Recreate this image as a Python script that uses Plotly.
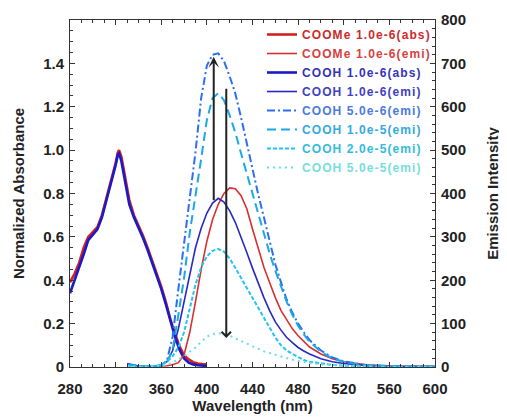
import plotly.graph_objects as go

# ---------------- data ----------------
abs_wl = [280, 284, 288, 292, 296, 300, 304, 308, 312, 316, 320, 322, 323, 325, 328, 332,
          336, 340, 344, 348, 352, 356, 360, 364, 368, 372, 376, 380, 384, 388, 392, 396, 400]
coome_abs = [0.39, 0.43, 0.48, 0.55, 0.60, 0.625, 0.645, 0.70, 0.78, 0.85, 0.94, 0.99, 1.0, 0.97,
             0.89, 0.77, 0.70, 0.655, 0.605, 0.55, 0.49, 0.43, 0.37, 0.30, 0.22, 0.155, 0.095,
             0.055, 0.035, 0.022, 0.016, 0.014, 0.013]
cooh_abs = [0.34, 0.40, 0.45, 0.52, 0.585, 0.61, 0.635, 0.69, 0.77, 0.84, 0.93, 0.98, 0.985, 0.95,
            0.87, 0.75, 0.69, 0.645, 0.595, 0.54, 0.48, 0.42, 0.36, 0.29, 0.21, 0.14, 0.08,
            0.04, 0.02, 0.012, 0.008, 0.006, 0.005]

em_wl = [330, 335, 340, 350, 360, 365, 370, 375, 380, 385, 390, 395, 400, 405, 410, 415, 420,
         425, 430, 435, 440, 445, 450, 455, 460, 465, 470, 475, 480, 485, 490, 500, 510, 520,
         530, 540, 560, 580, 600]
coome_emi_1e6 = [6, 4, 2, 1, 2, 3, 5, 10, 28, 80, 150, 225, 290, 340, 375, 400, 413,
                 411, 395, 365, 318, 272, 230, 195, 160, 130, 108, 88, 72, 58, 46, 30, 19, 12,
                 8, 5, 2, 1, 1]
cooh_emi_1e6 = [8, 5, 2, 1, 4, 12, 38, 88, 148, 215, 275, 320, 355, 378, 389, 380, 360,
                333, 300, 264, 228, 192, 160, 130, 104, 85, 68, 56, 45, 37, 30, 19, 12, 8,
                5, 3, 1, 1, 1]
cooh_emi_5e6 = [6, 4, 2, 1, 4, 15, 70, 180, 290, 390, 495, 620, 695, 720, 723, 705, 670,
                630, 575, 515, 460, 398, 345, 290, 237, 195, 155, 125, 100, 80, 62, 38, 22, 13,
                8, 4, 2, 1, 1]
cooh_emi_1e5 = [5, 3, 2, 1, 3, 10, 40, 120, 205, 310, 390, 480, 570, 620, 631, 615, 580,
                540, 492, 445, 398, 350, 305, 262, 222, 185, 150, 120, 95, 75, 58, 35, 20, 12,
                7, 4, 2, 1, 1]
cooh_emi_2e5 = [3, 2, 1, 1, 5, 12, 25, 45, 80, 135, 190, 230, 255, 268, 272, 266, 250,
                228, 205, 182, 160, 138, 115, 90, 68, 50, 38, 30, 22, 16, 12, 8, 5, 3,
                2, 1, 0, 0, 0]
cooh_emi_5e5 = [2, 1, 1, 1, 3, 5, 10, 17, 25, 35, 45, 58, 70, 76, 78, 76, 72,
                66, 60, 53, 47, 41, 36, 32, 28, 24, 21, 17, 14, 11, 9, 6, 4, 3,
                2, 1, 0, 0, 0]

# arrows (wavelength, absorbance-scale)
arrow_up = dict(x=406, y0=0.762, y1=1.43)
arrow_down = dict(x=417, y0=1.29, y1=0.134)

# ---------------- figure ----------------
fig = go.Figure()

def lab(text, color):
    return "<span style='color:%s;letter-spacing:1.1px'>%s</span>" % (color, text)

fig.add_trace(go.Scatter(x=abs_wl, y=coome_abs, mode="lines", yaxis="y",
                         line=dict(color="#d42020", width=2.6),
                         name=lab("COOMe 1.0e-6(abs)", "#cc2a2a")))
fig.add_trace(go.Scatter(x=em_wl, y=coome_emi_1e6, mode="lines", yaxis="y2",
                         line=dict(color="#d83030", width=1.6),
                         name=lab("COOMe 1.0e-6(emi)", "#d84040")))
fig.add_trace(go.Scatter(x=abs_wl, y=cooh_abs, mode="lines", yaxis="y",
                         line=dict(color="#1a1ac8", width=2.6),
                         name=lab("COOH 1.0e-6(abs)", "#3333bb")))
fig.add_trace(go.Scatter(x=em_wl, y=cooh_emi_1e6, mode="lines", yaxis="y2",
                         line=dict(color="#2828c4", width=1.6),
                         name=lab("COOH 1.0e-6(emi)", "#4040c4")))
fig.add_trace(go.Scatter(x=em_wl, y=cooh_emi_5e6, mode="lines", yaxis="y2",
                         line=dict(color="#2c6ef0", width=2, dash="8px,3px,2px,3px"),
                         name=lab("COOH 5.0e-6(emi)", "#4a7ae0")))
fig.add_trace(go.Scatter(x=em_wl, y=cooh_emi_1e5, mode="lines", yaxis="y2",
                         line=dict(color="#1aa8e8", width=2, dash="9px,5px"),
                         name=lab("COOH 1.0e-5(emi)", "#33aadd")))
fig.add_trace(go.Scatter(x=em_wl, y=cooh_emi_2e5, mode="lines", yaxis="y2",
                         line=dict(color="#22c4f0", width=2, dash="4px,2px"),
                         name=lab("COOH 2.0e-5(emi)", "#33bbdd")))
fig.add_trace(go.Scatter(x=em_wl, y=cooh_emi_5e5, mode="lines", yaxis="y2",
                         line=dict(color="#66dde8", width=2, dash="2px,4px"),
                         name=lab("COOH 5.0e-5(emi)", "#77dddd")))

for a, head in ((arrow_up, 3), (arrow_down, 4)):
    fig.add_annotation(x=a["x"], y=a["y1"], ax=a["x"], ay=a["y0"],
                       xref="x", yref="y", axref="x", ayref="y",
                       showarrow=True, arrowhead=head, arrowsize=0.9,
                       arrowwidth=2, arrowcolor="#222222", text="")

tickfont = dict(family="Arial", size=15, color="#222222", weight="bold")
titlefont = dict(family="Arial", size=15, color="#222222", weight="bold")

fig.update_layout(
    width=507, height=418,
    margin=dict(l=62, r=80, t=12, b=59, autoexpand=False),
    paper_bgcolor="white", plot_bgcolor="white",
    showlegend=True,
    legend=dict(x=0.526, y=1.0, xanchor="left", yanchor="top",
                bgcolor="rgba(0,0,0,0)", borderwidth=0,
                font=dict(family="Arial", size=12, weight="bold"),
                tracegroupgap=0),
    xaxis=dict(range=[280, 600], tickvals=list(range(280, 601, 40)),
               ticks="inside", ticklen=5, tickwidth=1, tickcolor="#333",
               minor=dict(dtick=10, ticks="inside", ticklen=3, tickcolor="#333"),
               showline=True, linecolor="#333", linewidth=1, mirror="ticks",
               showgrid=False, zeroline=False, tickfont=tickfont,
               ticklabelstandoff=8,
               title=dict(text="Wavelength (nm)", font=titlefont, standoff=4)),
    yaxis=dict(range=[0, 1.6], tickvals=[0, 0.2, 0.4, 0.6, 0.8, 1.0, 1.2, 1.4],
               ticktext=["0", "0.2", "0.4", "0.6", "0.8", "1.0", "1.2", "1.4"],
               ticks="inside", ticklen=5, tickwidth=1, tickcolor="#333",
               minor=dict(dtick=0.05, ticks="inside", ticklen=3, tickcolor="#333"),
               showline=True, linecolor="#333", linewidth=1,
               showgrid=False, zeroline=False, tickfont=tickfont,
               ticklabelstandoff=2,
               title=dict(text="Normalized Absorbance", font=titlefont, standoff=14)),
    yaxis2=dict(range=[0, 800], tickvals=list(range(0, 801, 100)),
                overlaying="y", side="right",
                ticks="inside", ticklen=5, tickwidth=1, tickcolor="#333",
                minor=dict(dtick=20, ticks="inside", ticklen=3, tickcolor="#333"),
                showline=True, linecolor="#333", linewidth=1,
                showgrid=False, zeroline=False, tickfont=tickfont,
                ticklabelstandoff=2,
                title=dict(text="Emission Intensity", font=titlefont, standoff=22)),
)

fig.write_html("out.html")
